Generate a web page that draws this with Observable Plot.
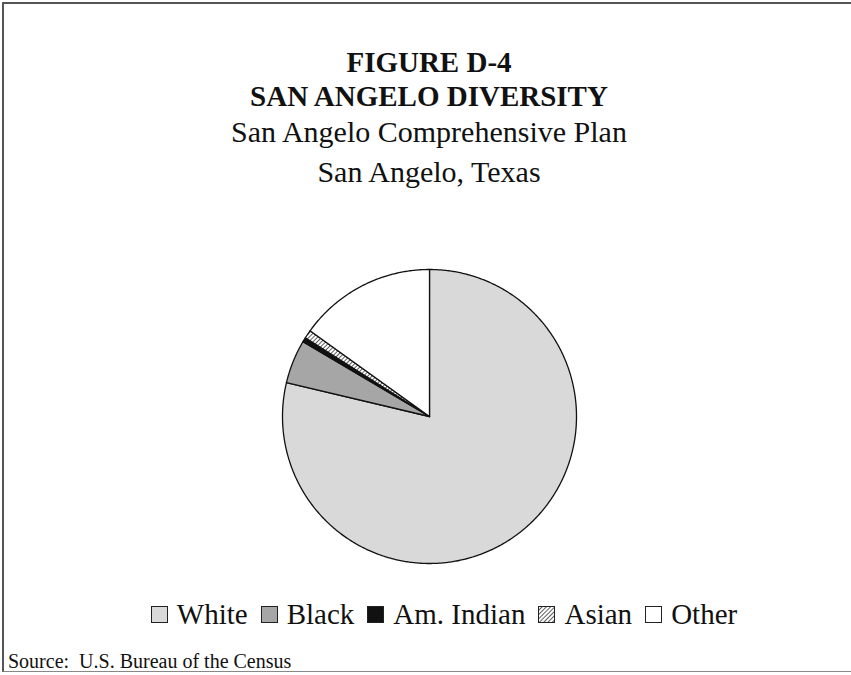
<!DOCTYPE html>
<html>
<head>
<meta charset="utf-8">
<script src="https://cdn.jsdelivr.net/npm/d3@7"></script>
<script src="https://cdn.jsdelivr.net/npm/@observablehq/plot@0.6"></script>
<style>
  html, body { margin: 0; padding: 0; background: #fff; }
  #page { position: relative; width: 851px; height: 675px; overflow: hidden; font-family: "Liberation Serif", "Times New Roman", serif; color: #111; }
  #frame { position: absolute; left: 2px; top: 2px; width: 851px; height: 670px; border-top: 2px solid #555; border-left: 2px solid #555; border-bottom: 1px solid #888; box-sizing: border-box; }
  .t { position: absolute; left: 0; width: 858px; text-align: center; white-space: pre; line-height: 1; }
  #chart { position: absolute; left: 280px; top: 267px; }
  #legend { position: absolute; top: 598px; left: 0; width: 888px; display: flex; justify-content: center; align-items: center; font-size: 29px; }
  .item { display: flex; align-items: center; margin: 0 6.5px; }
  #source { position: absolute; left: 8px; top: 650px; font-size: 20px; white-space: pre; }
</style>
</head>
<body>
<div id="page">
  <div id="frame"></div>
  <div class="t" id="t1" style="top:48px;font-size:29px;font-weight:bold;">FIGURE D-4</div>
  <div class="t" id="t2" style="top:82px;font-size:29px;font-weight:bold;">SAN ANGELO DIVERSITY</div>
  <div class="t" id="t3" style="top:117px;font-size:30px;">San Angelo Comprehensive Plan</div>
  <div class="t" id="t4" style="top:157px;font-size:30px;">San Angelo, Texas</div>
  <div id="chart"></div>
  <div id="legend"></div>
  <div id="source">Source:  U.S. Bureau of the Census</div>
</div>
<svg width="0" height="0" style="position:absolute">
  <defs>
    <pattern id="hatch" patternUnits="userSpaceOnUse" width="3" height="3" patternTransform="rotate(45)">
      <rect width="3" height="3" fill="#fff"></rect>
      <line x1="0" y1="0" x2="0" y2="3" stroke="#333" stroke-width="1.6"></line>
    </pattern>
  </defs>
</svg>
<script>
// Data (percent of population)
const categories = ["White", "Black", "Am. Indian", "Asian", "Other"];
const shares = [78.7, 4.8, 0.5, 0.9, 15.1];
// Fill palette
const fills = ["#d9d9d9", "#a6a6a6", "#111111", "url(#hatch)", "#ffffff"];

const pie = d3.pie().sort(null).value(d => d.value)(categories.map((c, i) => ({name: c, value: shares[i]})));
// polygon points for each slice (angle clockwise from 12 o'clock)
const pts = [];
pie.forEach(s => {
  const name = s.data.name;
  pts.push({name, x: 0, y: 0});
  const n = Math.max(2, Math.ceil((s.endAngle - s.startAngle) / (Math.PI / 360)));
  for (let k = 0; k <= n; k++) {
    const a = s.startAngle + (s.endAngle - s.startAngle) * k / n;
    pts.push({name, x: Math.sin(a), y: Math.cos(a)});
  }
  pts.push({name, x: 0, y: 0});
});

const chart = Plot.plot({
  width: 298,
  height: 298,
  margin: 2,
  x: {domain: [-1, 1], axis: null},
  y: {domain: [-1, 1], axis: null},
  color: {domain: categories, range: fills},
  marks: [
    Plot.line(pts, {x: "x", y: "y", z: "name", fill: "name", stroke: "#111", strokeWidth: 1.3, curve: "linear"})
  ]
});
document.getElementById("chart").appendChild(chart);

const legend = document.getElementById("legend");
categories.forEach((c, i) => {
  const item = document.createElement("div");
  item.className = "item";
  const sw = document.createElementNS("http://www.w3.org/2000/svg", "svg");
  sw.setAttribute("width", "17");
  sw.setAttribute("height", "17");
  sw.style.marginRight = "9px";
  sw.innerHTML = `<rect x="0.5" y="0.5" width="16" height="16" fill="${fills[i]}" stroke="#222" stroke-width="1"></rect>`;
  item.appendChild(sw);
  const lab = document.createElement("span");
  lab.textContent = c;
  item.appendChild(lab);
  legend.appendChild(item);
});
</script>
</body>
</html>
